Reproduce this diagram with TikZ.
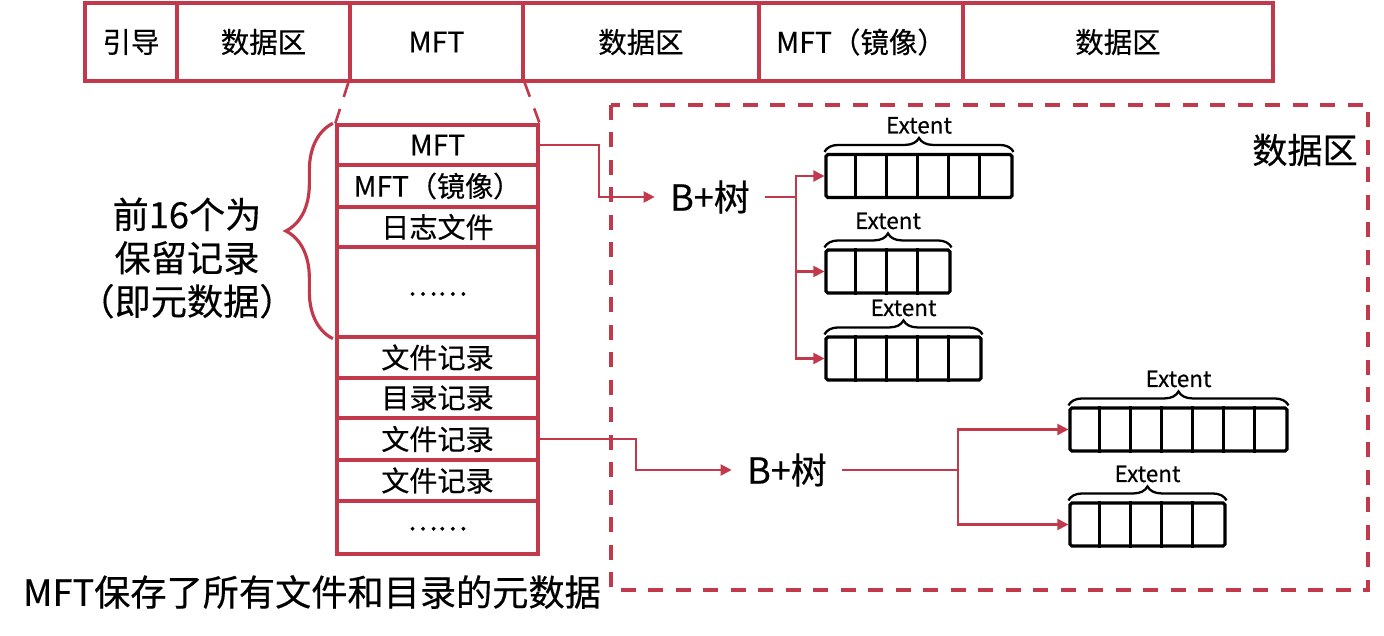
\documentclass[tikz,border=0pt]{standalone}
\usepackage{fontspec}
\setmainfont[FakeBold=0.4]{Noto Sans CJK SC}
\usepackage{xcolor}
\definecolor{disk-red}{HTML}{C1394B}
\definecolor{disk-black}{HTML}{000000}
\usetikzlibrary{arrows.meta,decorations.pathreplacing,positioning}

\tikzset{
  barcell/.style={draw=disk-red, line width=1.9pt, minimum height=1.56cm, inner sep=0pt, font=\fontsize{16.2}{19}\selectfont},
  mftrow/.style={draw=disk-red, line width=1.9pt, minimum width=4.02cm, inner sep=0pt, font=\fontsize{16}{19}\selectfont},
  extbox/.style={draw=disk-black, line width=1.8pt, minimum height=0.86cm, inner sep=0pt, rounded corners=1pt},
  extlabel/.style={font=\fontsize{12.8}{15}\selectfont, inner sep=0pt},
  tree/.style={minimum width=2.2cm, inner sep=0pt, font=\fontsize{20.5}{24}\selectfont},
  link/.style={draw=disk-red, line width=1.2pt},
  linkarrow/.style={link, -{Triangle[length=0.22cm,width=0.22cm]}},
  zoomline/.style={draw=disk-red, line width=1.5pt, dash pattern=on 0.3cm off 0.25cm},
  bigtext/.style={font=\fontsize{20.6}{24.7}\selectfont, align=center},
}

\begin{document}
\begin{tikzpicture}[x=0.02cm, y=-0.02cm]

    % Canvas
    \useasboundingbox (0, 0) rectangle (1384, 636);

    % Disk layout
    \node[barcell, minimum width=1.84cm] (bar1) at (131, 42) {引导};
    \node[barcell, minimum width=3.46cm] (bar2) at (263.5, 42) {数据区};
    \node[barcell, minimum width=3.46cm] (bar3) at (436.5, 42) {MFT};
    \node[barcell, minimum width=4.72cm] (bar4) at (641, 42) {数据区};
    \node[barcell, minimum width=4.08cm] (bar5) at (861, 42) {MFT（镜像）};
    \node[barcell, minimum width=6.2cm] (bar6) at (1118, 42) {数据区};

    % MFT records
    \foreach \name/\y/\h/\txt in {r1/145/0.8/MFT, r2/186/0.84/MFT（镜像）, r3/227/0.8/日志文件, r4/292/1.8/\raisebox{-0.15cm}{……}, r5/357.5/0.82/文件记录, r6/398/0.8/目录记录, r7/439/0.84/文件记录, r8/480.5/0.82/文件记录, r9/527.5/1.06/\raisebox{-0.12cm}{……}}
        \node[mftrow, minimum height=\h cm] (\name) at (437.5, \y) {\txt};

    % Zoom lines
    \draw[zoomline] (bar3.south west) -- (r1.north west);
    \draw[zoomline] (bar3.south east) -- (r1.north east);

    % Reserved records
    \draw[disk-red, line width=1.8pt, decorate, decoration={brace, amplitude=0.94cm}]
        ([xshift=-0.05cm]r4.south west) -- ([xshift=-0.05cm]r1.north west);
    \node[bigtext] (reserved) at (187, 258) {前16个为\\保留记录\\（即元数据）};
    \node[bigtext] (caption) at (312, 592) {MFT保存了所有文件和目录的元数据};

    % Data area
    \draw[zoomline, line width=1.8pt] (611, 105) rectangle (1368, 590);
    \node[font=\fontsize{20}{24}\selectfont] (area) at (1305, 150) {数据区};

    % Extents
    \foreach \name/\x/\y/\n in {ext1/919/176/6, ext2/888/271.5/4, ext3/903.5/358.5/5, ext4/1178.5/429.5/7, ext5/1147.5/524.5/5} {
        \node[extbox, minimum width=\n*0.62cm] (\name) at (\x, \y) {};
        \pgfmathtruncatemacro{\last}{\n-1}
        \foreach \i in {1,...,\last}
            \draw[disk-black, line width=1.8pt] ([xshift=\i*0.62cm]\name.north west) -- ([xshift=\i*0.62cm]\name.south west);
        \draw[disk-black, line width=1.3pt, decorate, decoration={brace, amplitude=0.28cm}]
            ([yshift=0.02cm]\name.north west) -- ([yshift=0.02cm]\name.north east)
            node[extlabel, midway, above=0.34cm] {Extent};
    }

    % B+ trees
    \node[tree] (bt1) at (710, 197) {B+树};
    \node[tree] (bt2) at (787, 470) {B+树};

    % Links
    \draw[linkarrow] (r1.east) -- ++(59, 0) |- (bt1.west);
    \draw[link] (bt1.east) -- ++(31, 0) coordinate (fork1);
    \foreach \e in {ext1, ext2, ext3}
        \draw[linkarrow] (fork1) |- (\e.west);

    \draw[linkarrow] (r7.east) -- ++(96, 0) |- (bt2.west);
    \draw[link] (bt2.east) -- ++(116, 0) coordinate (fork2);
    \foreach \e in {ext4, ext5}
        \draw[linkarrow] (fork2) |- (\e.west);

\end{tikzpicture}
\end{document}
